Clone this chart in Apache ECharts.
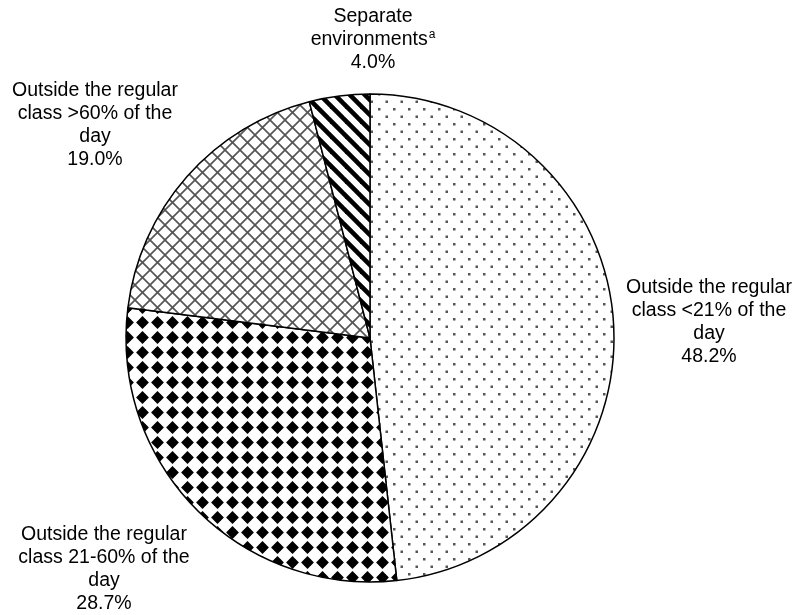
<!DOCTYPE html>
<html>
<head>
<meta charset="utf-8">
<script src="https://cdn.jsdelivr.net/npm/echarts@6/dist/echarts.min.js"></script>
<style>
html,body{margin:0;padding:0;background:#fff;}
#chart{width:797px;height:615px;}
</style>
</head>
<body>
<div id="chart"></div>
<script>
// ---- data ----
var categories = [
  'Outside the regular\nclass <21% of the\nday',
  'Outside the regular\nclass 21-60% of the\nday',
  'Outside the regular\nclass >60% of the\nday',
  'Separate\nenvironments{sup|a}'
];
var values = [48.2, 28.7, 19.0, 4.0];

// label anchor positions (centre of each text block)
var labelPos = [[709, 322], [104, 569], [95, 125], [373, 40]];

// ---- patterns ----
function tile(P, draw) {
  var c = document.createElement('canvas');
  c.width = P; c.height = P;
  var ctx = c.getContext('2d');
  ctx.fillStyle = '#fff';
  ctx.fillRect(0, 0, P, P);
  draw(ctx, P);
  return c;
}
function diagDown(ctx, P) {
  for (var k = -1; k <= 1; k++) {
    ctx.beginPath();
    ctx.moveTo(k * P - 2, -2);
    ctx.lineTo(k * P + P + 2, P + 2);
    ctx.stroke();
  }
}
function diagUp(ctx, P) {
  for (var k = -1; k <= 1; k++) {
    ctx.beginPath();
    ctx.moveTo(k * P - 2, P + 2);
    ctx.lineTo(k * P + P + 2, -2);
    ctx.stroke();
  }
}
var dots = tile(15, function (ctx, P) {
  ctx.fillStyle = '#555';
  ctx.fillRect(3, 3, 2.5, 2.5);
  ctx.fillRect(10.5, 10.5, 2.5, 2.5);
});
var diamonds = tile(15, function (ctx, P) {
  ctx.fillStyle = '#000';
  var c = P / 2, h = 6.4;
  ctx.beginPath();
  ctx.moveTo(c, c - h);
  ctx.lineTo(c + h, c);
  ctx.lineTo(c, c + h);
  ctx.lineTo(c - h, c);
  ctx.closePath();
  ctx.fill();
  ctx.beginPath();
  ctx.arc(c, c, 3.9, 0, Math.PI * 2);
  ctx.fill();
});
var cross = tile(15, function (ctx, P) {
  ctx.strokeStyle = '#555';
  ctx.lineWidth = 1.7;
  diagDown(ctx, P);
  diagUp(ctx, P);
});
var stripes = tile(15, function (ctx, P) {
  ctx.strokeStyle = '#000';
  ctx.lineWidth = 4.6;
  diagDown(ctx, P);
});
var patterns = [dots, diamonds, cross, stripes];

var chart = echarts.init(document.getElementById('chart'), null, {renderer: 'canvas'});
chart.setOption({
  animation: false,
  backgroundColor: '#fff',
  series: [{
    type: 'pie',
    center: [370, 338],
    radius: 244,
    startAngle: 90,
    clockwise: true,
    silent: true,
    emphasis: {disabled: true},
    itemStyle: {borderColor: '#000', borderWidth: 1.5},
    label: {
      show: true,
      position: 'outside',
      color: '#000',
      fontFamily: 'Liberation Sans, Arial, sans-serif',
      fontSize: 19.5,
      lineHeight: 23,
      align: 'center',
      overflow: 'none',
      width: 240,
      edgeDistance: 0,
      formatter: function (p) {
        return p.name + '\n' + p.value.toFixed(1) + '%';
      },
      rich: {
        sup: {
          fontFamily: 'Liberation Sans, Arial, sans-serif',
          fontSize: 12,
          color: '#000',
          lineHeight: 23,
          verticalAlign: 'top',
          padding: [0, 0, 8, 1]
        }
      }
    },
    labelLine: {show: false},
    labelLayout: function (params) {
      var p = labelPos[params.dataIndex];
      return {x: p[0], y: p[1], align: 'center', verticalAlign: 'middle'};
    },
    data: values.map(function (v, i) {
      return {
        name: categories[i],
        value: v,
        itemStyle: {color: {image: patterns[i], repeat: 'repeat'}}
      };
    })
  }]
});
</script>
</body>
</html>
